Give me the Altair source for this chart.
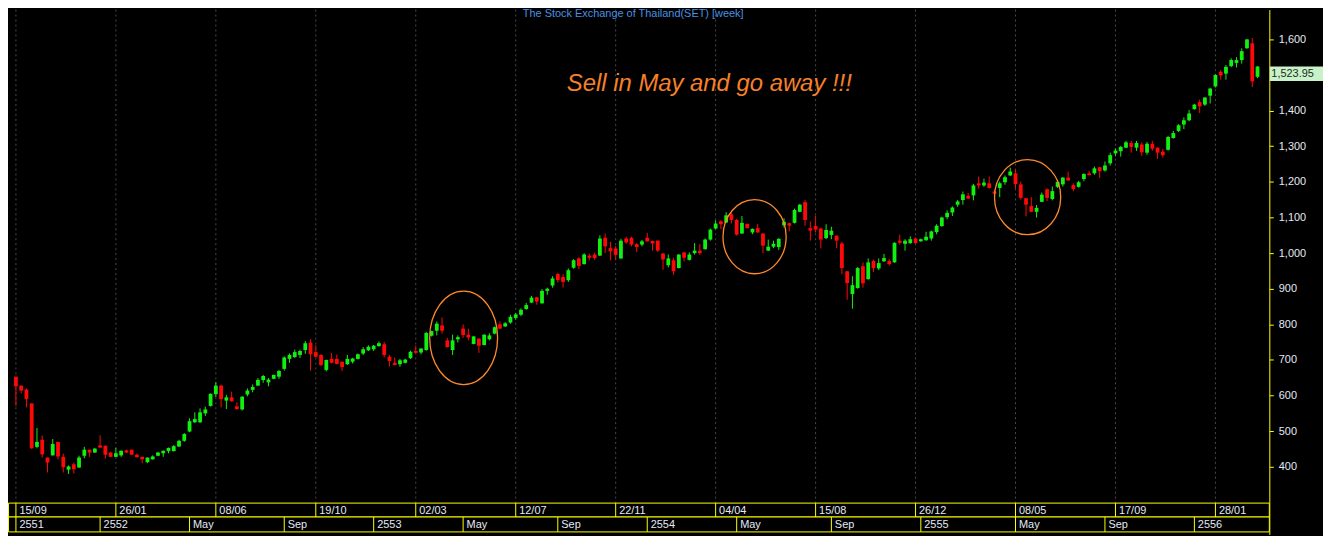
import altair as alt
import pandas as pd

# ---------------- data (weekly SET index candles) -------------
weeks = list(range(237))
opens = [653,628,617,578,456,476,426,432,470,428, 392,407,398,431,448,440,460,459,440,428,
         432,446,448,434,428,413,421,431,438,444, 444,457,473,499,525,525,550,571,604,628,
         586,595,570,561,603,616,628,644,637,647, 653,675,703,708,714,728,749,722,714,672,
         703,703,695,688,695,703,718,727,730,739, 744,709,692,688,692,705,725,721,728,768,
         782,797,755,728,758,788,771,745,760,742, 758,774,800,794,805,818,827,843,861,876,
         859,894,909,941,933,924,959,985,969,993, 996,993,1043,1014,1013,985,1041,1043,1025,1024,
         1043,1034,1035,999,966,980,958,1002,981,1000, 1007,1011,1038,1069,1089,1086,1109,1093,1055,1082,
         1058,1070,1055,1007,1018,1017,1078,1084,1085,1116, 1143,1070,1076,1069,1042,1051,1049,1027,949,885,
         902,963,927,978,957,977,978,974,1035,1026, 1028,1041,1033,1036,1041,1059,1076,1101,1114,1136,
         1149,1161,1162,1196,1190,1196,1173,1183,1199,1218, 1224,1193,1154,1132,1116,1144,1179,1152,1186,1193,
         1212,1191,1186,1208,1224,1224,1241,1232,1252,1280, 1286,1296,1309,1296,1305,1282,1307,1296,1285,1290,
         1323,1343,1361,1373,1404,1424,1417,1442,1468,1509, 1504,1525,1534,1542,1575,1589,1495]
highs = [653,628,620,578,509,488,426,478,470,437, 404,412,431,456,448,453,488,460,442,453,
         446,448,448,437,428,426,432,442,446,454, 461,476,495,536,553,564,569,606,638,631,
         602,611,581,598,620,631,649,658,649,659, 672,710,718,729,729,753,758,741,716,701,
         719,715,696,714,706,718,736,741,742,752, 751,714,707,703,703,726,740,733,778,782,
         808,819,762,771,769,800,788,767,760,772, 775,794,808,806,827,832,845,860,880,877,
         899,903,935,945,941,957,983,989,1000,998, 1001,1050,1055,1032,1020,1040,1046,1046,1028,1037,
         1057,1035,1036,1000,996,987,997,1002,1002,1028, 1026,1041,1069,1092,1092,1115,1113,1096,1104,1083,
         1069,1082,1056,1038,1035,1042,1098,1086,1125,1138, 1149,1089,1105,1072,1081,1074,1050,1032,950,935,
         961,974,985,982,985,998,984,1030,1052,1039, 1047,1044,1041,1060,1063,1081,1102,1120,1131,1149,
         1173,1169,1194,1215,1209,1215,1178,1201,1218,1240, 1235,1201,1155,1157,1135,1170,1182,1187,1206,1213,
         1229,1196,1203,1224,1231,1243,1242,1257,1282,1294, 1301,1315,1315,1315,1311,1312,1315,1297,1293,1329,
         1343,1362,1381,1402,1419,1431,1437,1464,1502,1514, 1528,1547,1550,1575,1601,1604,1525]
lows = [571,606,567,450,452,426,384,432,421,384, 380,381,397,424,428,439,453,423,427,427,
        428,439,433,426,410,410,420,430,428,438, 443,456,470,497,523,523,543,569,596,567,
        562,583,561,558,598,609,627,636,626,646, 647,670,692,706,706,717,670,707,682,668,
        690,688,669,686,690,701,714,725,725,737, 707,682,685,681,690,703,719,716,726,766,
        769,774,735,714,749,762,755,744,720,741, 755,772,787,793,802,813,823,841,860,855,
        858,883,903,917,903,919,956,955,968,980, 981,992,1000,980,981,984,1026,1019,1003,1019,
        1032,1007,1003,953,960,939,957,977,979,996, 995,1010,1035,1067,1067,1084,1083,1049,1054,1069,
        1053,1057,1000,1006,1014,1009,1072,1061,1083,1115, 1077,1035,1058,1013,1039,1039,1014,941,869,844,
        900,903,925,947,952,975,965,973,1024,1007, 1026,1027,1032,1035,1035,1053,1074,1095,1104,1130,
        1136,1152,1148,1181,1186,1181,1165,1157,1192,1217, 1181,1150,1103,1115,1100,1143,1146,1148,1183,1187,
        1203,1174,1184,1202,1218,1220,1211,1229,1246,1272, 1271,1295,1282,1287,1273,1276,1287,1265,1268,1288,
        1322,1340,1348,1370,1403,1393,1413,1420,1465,1487, 1487,1522,1521,1532,1574,1466,1491]
closes = [626,614,590,452,470,435,412,464,429,399, 401,393,426,448,440,451,454,434,428,438,
          445,440,434,427,421,426,429,440,445,453, 458,473,492,528,534,553,561,605,628,590,
          595,584,562,597,614,624,644,655,645,658, 669,707,714,722,725,747,716,709,686,700,
          692,689,680,703,704,716,730,737,740,747, 714,697,686,699,701,723,720,732,776,781,
          802,782,736,755,764,770,763,766,740,771, 769,792,788,803,821,828,841,854,875,864,
          894,900,929,924,919,952,980,964,996,987, 986,1041,1019,1005,995,1035,1030,1024,1017,1033,
          1033,1027,1007,982,985,949,996,987,996,1007, 1000,1038,1066,1083,1081,1106,1093,1052,1085,1070,
          1068,1058,1021,1018,1026,1040,1088,1077,1121,1136, 1093,1063,1066,1038,1065,1063,1035,958,916,910,
          958,915,974,958,972,986,969,1029,1029,1035, 1039,1028,1039,1046,1061,1077,1100,1113,1128,1145,
          1165,1153,1190,1190,1198,1183,1167,1196,1213,1229, 1194,1155,1136,1116,1127,1164,1155,1174,1200,1212,
          1204,1180,1199,1222,1219,1238,1230,1246,1275,1288, 1298,1311,1298,1309,1283,1307,1293,1282,1275,1326,
          1337,1359,1373,1392,1417,1412,1437,1462,1500,1499, 1523,1542,1542,1567,1600,1482,1523.95]

row1_weeks = [0, 19, 38, 57, 76, 95, 114, 133, 152, 171, 190, 209, 228]
row1_labels = ["15/09", "26/01", "08/06", "19/10", "02/03", "12/07", "22/11",
               "04/04", "15/08", "26/12", "08/05", "17/09", "28/01"]
row2_weeks = [0, 16, 33, 51, 68, 85, 103, 120, 137, 155, 172, 190, 207, 224]
row2_labels = ["2551", "2552", "May", "Sep", "2553", "May", "Sep", "2554",
               "May", "Sep", "2555", "May", "Sep", "2556"]
ytick_values = [400, 500, 600, 700, 800, 900, 1000, 1100, 1200, 1300, 1400, 1600]

circle_weeks = [85.1, 140.4, 192.3]
circle_values = [762, 1046, 1157]
last_close = [1523.95]
note_text = ["Sell in May and go away !!!"]
note_week = [131.8]
note_value = [1456]
title_text = "The Stock Exchange of Thailand(SET) [week]"

# ---------------- styling -------------
W, H = 1269, 528
RIGHT = 54
GREEN = "#12f012"
RED = "#ff0808"
YELLOW = "#ffff00"
ORANGE = "#ff8a2a"
NOTE = "#f7802a"
LBL = "#e3eaf6"
FONT = "Liberation Sans"
R1_TOP, R1_BOT, R2_BOT = 496.5, 510.5, 525.5

df = pd.DataFrame({"week": weeks, "open": opens, "high": highs, "low": lows, "close": closes})
df["dir"] = ["up" if c >= o else "down" for o, c in zip(df["open"], df["close"])]

xs = alt.Scale(domain=[-0.5623, 237.3], nice=False, zero=False)
ys = alt.Scale(domain=[210.2, 1683.7], nice=False, zero=False)
col = alt.Color("dir:N", scale=alt.Scale(domain=["up", "down"], range=[GREEN, RED]), legend=None)

yaxis = alt.Axis(orient="right", values=ytick_values, format=",d", grid=False,
                 domainColor=YELLOW, domainWidth=1, tickColor=YELLOW, tickSize=4, tickWidth=1,
                 labelColor=LBL, labelFont=FONT, labelFontSize=11, labelPadding=5,
                 labelOverlap=False, labelFlush=False, title=None)

X = alt.X("week:Q", scale=xs, axis=None)

one = pd.DataFrame({"k": [0]})
grid_df = pd.DataFrame({"week": row1_weeks})
r1 = pd.DataFrame({"week": row1_weeks, "label": row1_labels})
r2 = pd.DataFrame({"week": row2_weeks, "label": row2_labels})

grid = alt.Chart(grid_df).mark_rule(color="#4a4a4a", strokeDash=[2, 3], strokeWidth=1).encode(
    x=X, y=alt.value(0), y2=alt.value(R1_TOP))

wicks = alt.Chart(df).mark_rule(strokeWidth=1).encode(
    x=X, y=alt.Y("low:Q", scale=ys, axis=yaxis), y2="high:Q", color=col)

bodies = alt.Chart(df).mark_bar(width=3.8, cornerRadius=0).encode(
    x=X, y=alt.Y("open:Q", scale=ys, axis=yaxis), y2="close:Q", color=col)

box1 = alt.Chart(one).mark_rect(fill="black", stroke=YELLOW, strokeWidth=1).encode(
    x=alt.value(0.5), x2=alt.value(W), y=alt.value(R1_TOP), y2=alt.value(R1_BOT))
box2 = alt.Chart(one).mark_rect(fill="black", stroke=YELLOW, strokeWidth=1).encode(
    x=alt.value(0.5), x2=alt.value(W), y=alt.value(R1_BOT), y2=alt.value(R2_BOT))
sep1 = alt.Chart(r1).mark_rule(color=YELLOW, strokeWidth=1).encode(
    x=X, y=alt.value(R1_TOP), y2=alt.value(R1_BOT))
sep2 = alt.Chart(r2).mark_rule(color=YELLOW, strokeWidth=1).encode(
    x=X, y=alt.value(R1_BOT), y2=alt.value(R2_BOT))
txt1 = alt.Chart(r1).mark_text(align="left", baseline="middle", dx=3.5, color=LBL,
                               font=FONT, fontSize=11).encode(
    x=X, y=alt.value((R1_TOP + R1_BOT) / 2 + 0.5), text="label:N")
txt2 = alt.Chart(r2).mark_text(align="left", baseline="middle", dx=3.5, color=LBL,
                               font=FONT, fontSize=11).encode(
    x=X, y=alt.value((R1_BOT + R2_BOT) / 2 + 0.5), text="label:N")

title = alt.Chart(one).mark_text(align="center", baseline="middle", color="#4a90e2",
                                 font=FONT, fontSize=11).encode(
    x=alt.value(629), y=alt.value(4), text=alt.value(title_text))

note = alt.Chart(pd.DataFrame({"week": note_week, "v": note_value, "t": note_text})).mark_text(
    align="center", baseline="alphabetic", color=NOTE, font=FONT, fontSize=24,
    fontStyle="italic").encode(
    x=X, y=alt.Y("v:Q", scale=ys, axis=yaxis), text="t:N")

def ellipse(ratio):
    r = f"{ratio:.3f}"
    return f"M -{r} 0 A {r} 1 0 1 0 {r} 0 A {r} 1 0 1 0 -{r} 0 Z"

circle_specs = [(0.727, 94.0), (0.853, 74.5), (0.882, 75.5)]
circles = []
for k, (ratio, diam) in enumerate(circle_specs):
    cdf = pd.DataFrame({"week": [circle_weeks[k]], "v": [circle_values[k]]})
    circles.append(alt.Chart(cdf).mark_point(shape=ellipse(ratio), size=diam * diam, filled=False,
                                             color=ORANGE, strokeWidth=1.3, opacity=1).encode(
        x=X, y=alt.Y("v:Q", scale=ys, axis=yaxis)))

lc = pd.DataFrame({"v": last_close})
lbox = alt.Chart(lc).mark_rect(fill="#c8f2c8", y2Offset=14.5).encode(
    x=alt.value(W + 0.5), x2=alt.value(W + RIGHT), y=alt.Y("v:Q", scale=ys, axis=yaxis), y2="v:Q")
ltxt = alt.Chart(lc).mark_text(align="left", baseline="top", dy=2, color="#1e2a1e",
                               font=FONT, fontSize=11).encode(
    x=alt.value(W + 2), y=alt.Y("v:Q", scale=ys, axis=yaxis), text=alt.Text("v:Q", format=",.2f"))

chart = alt.layer(grid, wicks, bodies, box1, box2, sep1, sep2, txt1, txt2, title, note,
                  *circles, lbox, ltxt).properties(
    width=W, height=H,
    autosize=alt.AutoSizeParams(type="none"),
    padding={"left": 0, "top": 0, "right": RIGHT, "bottom": 0},
    background="black",
).configure_view(stroke=None)

chart.save("out.html", embed_options={"renderer": "svg", "actions": False})
